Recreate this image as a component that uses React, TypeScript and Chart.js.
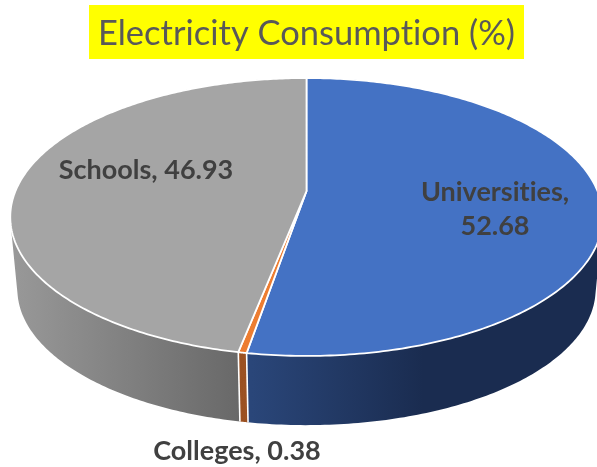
import React, { useEffect, useRef } from "react";
import { Chart, registerables } from "chart.js";

Chart.register(...registerables);

const categories = ["Universities", "Colleges", "Schools"];
const shares = [52.68, 0.38, 46.93];
const topColors = ["#4472C4", "#ED7D31", "#A5A5A5"];
const titleText = "Electricity Consumption (%)";

// Perspective of the tilted disc
const APEX_X = 306.5;
const APEX_Y = 191;
const RX = 291;
const RY = 134.1;
const K = -0.187;
const BASE_RX = 284;
const BASE_RY = 131;
const BASE_Y = 264;

const project = (theta: number, bottom: boolean): [number, number] => {
  const u = Math.sin(theta);
  const v = -Math.cos(theta);
  const w = 1 + K * v;
  return bottom
    ? [APEX_X + (BASE_RX * u) / w, BASE_Y + (BASE_RY * v) / w]
    : [APEX_X + (RX * u) / w, APEX_Y + (RY * v) / w];
};

const wallGradient = (ctx: CanvasRenderingContext2D, i: number) => {
  const g = ctx.createLinearGradient(10, 0, 600, 0);
  if (i === 0) {
    g.addColorStop(0.41, "#2A4679");
    g.addColorStop(0.7, "#1A2C50");
    g.addColorStop(1, "#1A2C50");
  } else if (i === 1) {
    g.addColorStop(0, "#9A4F1F");
    g.addColorStop(1, "#9A4F1F");
  } else {
    g.addColorStop(0, "#999999");
    g.addColorStop(0.385, "#696969");
  }
  return g;
};

const disc3d = {
  id: "disc3d",
  beforeDatasetsDraw(chart: any) {
    const ctx: CanvasRenderingContext2D = chart.ctx;
    const arcs = chart.getDatasetMeta(0).data;
    const ranges = arcs.map((a: any) => [a.startAngle + Math.PI / 2, a.endAngle + Math.PI / 2]);
    const samples = 240;

    // walls, swept as narrow strips so that the silhouette follows the rim
    [0, 2, 1].forEach((i) => {
      const [s, e] = ranges[i];
      ctx.fillStyle = wallGradient(ctx, i);
      ctx.beginPath();
      for (let n = 0; n < samples; n++) {
        const a = s + ((e - s) * n) / samples;
        const b = s + ((e - s) * (n + 1)) / samples;
        const [p, q, r, t] = [project(a, false), project(b, false), project(b, true), project(a, true)];
        const cross = (q[0] - p[0]) * (r[1] - p[1]) - (q[1] - p[1]) * (r[0] - p[0]);
        ctx.moveTo(p[0], p[1]);
        if (cross >= 0) {
          ctx.lineTo(q[0], q[1]);
          ctx.lineTo(r[0], r[1]);
          ctx.lineTo(t[0], t[1]);
        } else {
          ctx.lineTo(t[0], t[1]);
          ctx.lineTo(r[0], r[1]);
          ctx.lineTo(q[0], q[1]);
        }
        ctx.closePath();
      }
      ctx.fill();
    });
    // seams on the wall
    ctx.strokeStyle = "#FFFFFF";
    ctx.lineWidth = 1.6;
    ranges.forEach(([s]: number[]) => {
      const top = project(s, false);
      const low = project(s, true);
      ctx.beginPath();
      ctx.moveTo(top[0], top[1]);
      ctx.lineTo(low[0], low[1]);
      ctx.stroke();
    });

    // top face
    arcs.forEach((a: any, i: number) => {
      const [s, e] = ranges[i];
      ctx.beginPath();
      ctx.moveTo(APEX_X, APEX_Y);
      for (let n = 0; n <= samples; n++) {
        const [x, y] = project(s + ((e - s) * n) / samples, false);
        ctx.lineTo(x, y);
      }
      ctx.closePath();
      ctx.fillStyle = a.options.backgroundColor;
      ctx.fill();
      ctx.strokeStyle = "#FFFFFF";
      ctx.lineWidth = 1.8;
      ctx.lineJoin = "round";
      ctx.stroke();
    });

    // data labels
    ctx.fillStyle = "#404040";
    ctx.font = "bold 27px Lato";
    ctx.textAlign = "center";
    ctx.textBaseline = "middle";
    ctx.fillText(`${categories[2]}, ${shares[2]}`, 146, 170);
    ctx.fillText(`${categories[0]},`, 495, 192);
    ctx.fillText(`${shares[0]}`, 495, 226);
    ctx.fillText(`${categories[1]}, ${shares[1]}`, 237, 451);
    return false;
  },
};

const titleBackground = {
  id: "titleBackground",
  beforeDraw(chart: any) {
    chart.ctx.textRendering = "optimizeSpeed";
    chart.ctx.fillStyle = "#FFFF00";
    chart.ctx.fillRect(89, 5, 435, 54);
  },
};

export default function App() {
  const ref = useRef<HTMLCanvasElement>(null);
  useEffect(() => {
    const chart = new Chart(ref.current!, {
      type: "pie",
      data: {
        labels: categories,
        datasets: [{ data: shares, backgroundColor: topColors }],
      },
      options: {
        animation: false,
        responsive: false,
        devicePixelRatio: 1,
        layout: { padding: { left: 16, top: 0, right: 0, bottom: 0 } },
        plugins: {
          legend: { display: false },
          tooltip: { enabled: false },
          title: {
            display: true,
            text: titleText,
            color: "#595959",
            font: { family: "Lato", size: 34.5, weight: "normal" },
            padding: { top: 13, bottom: 10 },
          },
        },
      },
      plugins: [titleBackground, disc3d],
    } as any);
    return () => chart.destroy();
  }, []);
  return (
    <div style={{ position: "fixed", left: 0, top: 0, width: 597, height: 467, background: "#fff" }}>
      <canvas ref={ref} width={597} height={467} style={{ display: "block" }} />
    </div>
  );
}
